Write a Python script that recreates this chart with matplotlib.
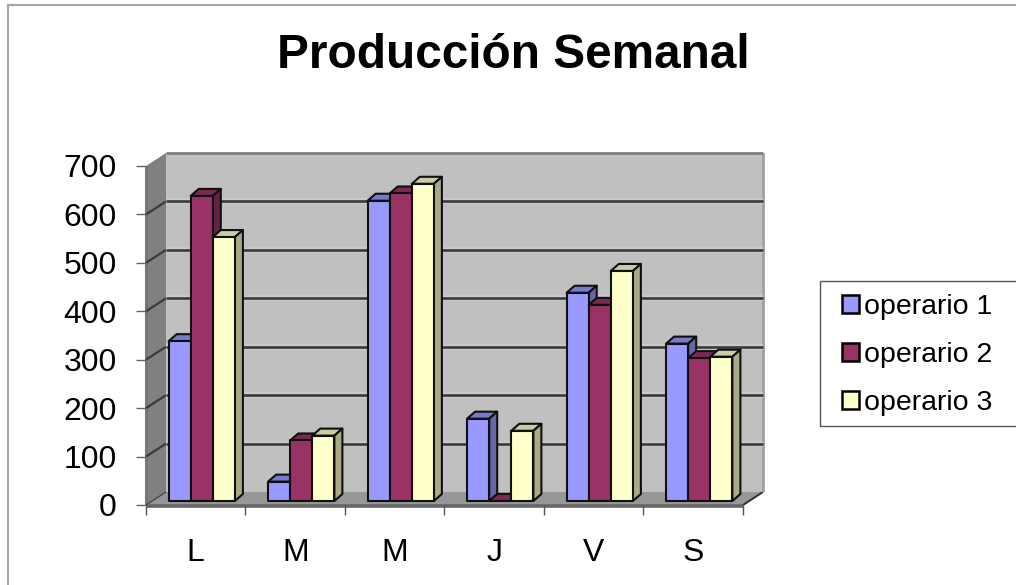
import matplotlib
matplotlib.use('Agg')
import matplotlib.pyplot as plt
from matplotlib.patches import Polygon, Patch, Rectangle
from matplotlib.transforms import Affine2D, IdentityTransform

plt.rcParams['font.family'] = ['Liberation Sans', 'DejaVu Sans']

dias = ['L', 'M', 'M', 'J', 'V', 'S']
operario1 = [330, 40, 620, 170, 430, 325]
operario2 = [630, 125, 635, 0, 405, 295]
operario3 = [545, 135, 655, 145, 475, 298]
series = [operario1, operario2, operario3]
nombres = ['operario 1', 'operario 2', 'operario 3']
ticks_y = [0, 100, 200, 300, 400, 500, 600, 700]

frente = ['#9999FF', '#993366', '#FFFFCC']
lado = ['#6666AA', '#662244', '#AAAA88']
arriba = ['#7A7ACC', '#7A2952', '#CCCCA3']

W, H = 1016, 585
IZQ, DER, BASE, TOPE = 146, 743, 505, 166
PROF_X, PROF_Y = 20, 13      # fondo del grafico, en pixeles
BARRA_X, BARRA_Y = 6, 4      # desplazamiento de las barras sobre el suelo
DX, DY = 8, 7                # profundidad de cada barra
ANCHO = 0.222

fig = plt.figure(figsize=(W / 100, H / 100), dpi=100, facecolor='white')
ax = fig.add_axes([IZQ / W, (H - BASE) / H, (DER - IZQ) / W, (BASE - TOPE) / H])
ax.set_xlim(0, 6)
ax.set_ylim(0, 700)
ax.patch.set_visible(False)
for s in ax.spines.values():
    s.set_visible(False)

por_x = 6 / (DER - IZQ)
por_y = 700 / (BASE - TOPE)


def desplazado(dx, dy):
    return ax.transData + Affine2D().translate(dx, dy)


def cara(puntos, color, dx=0, dy=0, z=1, borde='none', lw=0):
    # el clip se quita porque la profundidad sale de los ejes
    p = Polygon(puntos, closed=True, facecolor=color, edgecolor=borde, linewidth=lw,
                transform=desplazado(dx, dy), zorder=z, clip_on=False, joinstyle='round')
    ax.add_patch(p)


def linea(xs, ys, color, lw, z, dx=0, dy=0):
    ax.plot(xs, ys, color=color, lw=lw, transform=desplazado(dx, dy), zorder=z,
            clip_on=False, solid_capstyle='butt')


# pared del fondo, pared lateral y suelo
px, py = PROF_X * por_x, PROF_Y * por_y
cara([(0, 0), (6, 0), (6, 700), (0, 700)], '#C0C0C0', PROF_X, PROF_Y, z=1)
cara([(0, 0), (0, 700), (px, 700 + py), (px, py)], '#808080', z=1.2)
cara([(0, 0), (6, 0), (6 + px, py), (px, py)], '#979797', z=1.2)
linea([6, 6], [0, 700], '#A0A0A0', 2, 2, PROF_X, PROF_Y)
linea([0, 6], [700, 700], '#808080', 2, 2, PROF_X, PROF_Y)
linea([0, 6], [0, 0], '#666666', 2.6, 1.4, 0, -1)
linea([0, 0], [0, 700], '#777777', 2.2, 1.4)
linea([0, px], [0, py], '#4A4A4A', 1, 1.5)
linea([6, 6 + px], [0, py], '#303030', 1.4, 1.5)

# lineas de division: diagonal en el lateral y recta en el fondo
for v in ticks_y[1:-1]:
    linea([0, 6], [v, v], '#CBCBCB', 4, 2, PROF_X, PROF_Y)
    linea([0, 6], [v, v], '#3A3A3A', 1.9, 2.1, PROF_X, PROF_Y)
    linea([0, px], [v, v + py], '#3A3A3A', 1.6, 1.5)

# barras: cada una con cara frontal, lateral y superior
dx_d, dy_d = DX * por_x, DY * por_y
for i in range(len(dias)):
    for j, valores in enumerate(series):
        v = valores[i]
        x0 = i + 0.5 + (j - 1.5) * ANCHO
        x1 = x0 + ANCHO
        z = 5 + i * 3 + j
        e = dict(borde='#101010', lw=1.5)
        cara([(x0, v), (x1, v), (x1 + dx_d, v + dy_d), (x0 + dx_d, v + dy_d)],
             arriba[j], BARRA_X, BARRA_Y, z=z, **e)
        cara([(x1, 0), (x1 + dx_d, dy_d), (x1 + dx_d, v + dy_d), (x1, v)],
             lado[j], BARRA_X, BARRA_Y, z=z, **e)
        cara([(x0, 0), (x1, 0), (x1, v), (x0, v)], frente[j], BARRA_X, BARRA_Y, z=z, **e)

# ejes
ax.set_yticks(ticks_y)
ax.set_xticks(range(7))
ax.set_xticklabels([])
ax.set_xticks([i + 0.5 for i in range(6)], minor=True)
ax.set_xticklabels(dias, minor=True, fontsize=23, color='black')
ax.tick_params(axis='x', which='major', length=7, width=1, color='#555555', direction='out')
ax.tick_params(axis='x', which='minor', length=0, pad=24)
ax.tick_params(axis='y', length=7, width=1, color='#666666', pad=14, labelsize=23)

# titulo
fig.text(513 / W, (H - 56) / H, 'Producción Semanal', ha='center', va='center',
         fontsize=34.4, fontweight='bold', color='black')

# leyenda con su recuadro, que llega hasta el borde derecho
fig.add_artist(Rectangle((820, H - 426), 220, 145, facecolor='white', edgecolor='#555555',
                         lw=1, transform=IdentityTransform(), zorder=3))
handles = [Patch(facecolor=c, edgecolor='black', linewidth=1.8) for c in frente]
leg = fig.legend(handles, nombres, loc='center left', bbox_to_anchor=(842 / W, (H - 355) / H),
                 frameon=False, fontsize=20.5, handlelength=0.58, handleheight=0.58,
                 handletextpad=0.2, labelspacing=0.77, borderpad=0, borderaxespad=0)
leg.set_zorder(4)

# marco exterior, abierto por abajo y por la derecha
fig.add_artist(plt.Line2D([7.5, 7.5], [-5, H - 5], color='#A6A6A6', lw=1.5,
                          transform=IdentityTransform(), zorder=10))
fig.add_artist(plt.Line2D([7.5, W + 5], [H - 5, H - 5], color='#A6A6A6', lw=1.5,
                          transform=IdentityTransform(), zorder=10))

fig.savefig('out.png', dpi=100)
